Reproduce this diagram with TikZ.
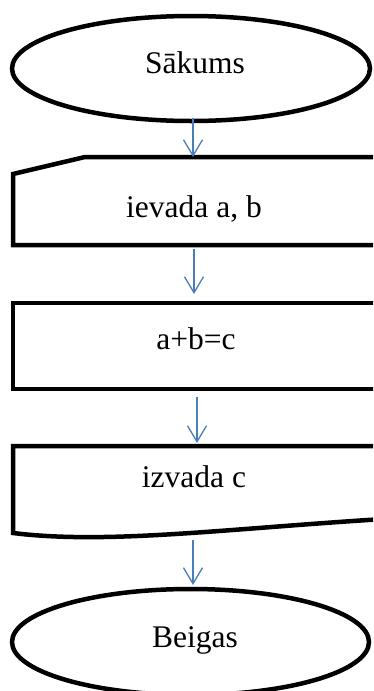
\documentclass[tikz,border=0pt]{standalone}
\usepackage{fontspec}
\setmainfont{Liberation Serif}
\usetikzlibrary{shapes.geometric,arrows.meta}
\definecolor{flowblue}{RGB}{74,126,187}
\tikzset{
  outline/.style={draw=black,line width=4.5pt},
  terminal/.style={outline,ellipse,inner sep=0pt,minimum width=358pt,minimum height=105pt},
  label/.style={font=\fontsize{31.5}{36}\selectfont,anchor=base,inner sep=0pt},
  flow/.style={draw=flowblue,line width=1.3pt,-{Straight Barb[length=16pt,width=19pt,line width=1.3pt]}}
}
\begin{document}
\begin{tikzpicture}[x=1pt,y=-1pt]
  \useasboundingbox (0,0) rectangle (373,691);
  \clip (0,0) rectangle (373,691);

  % start terminal
  \node[terminal] (start) at (191,68.5) {};
  \node[label] (starttext) at (195,73) {Sākums};

  % manual input
  \draw[outline] (420,157) -- (85,157) -- (13,174) -- (13,245) -- (420,245);
  \node[label] (intext) at (194,217) {ievada a, b};

  % process
  \draw[outline] (420,303) -- (13,303) -- (13,389) -- (420,389);
  \node[label] (proctext) at (196,349) {a+b=c};

  % output document
  \draw[outline] (420,446) -- (13,446) -- (13,533)
        .. controls (110,545) and (230,528) .. (400,518) -- (420,518);
  \node[label] (outtext) at (194,487) {izvada c};

  % end terminal
  \node[terminal,minimum width=357pt,minimum height=106pt] (stop) at (190.5,642) {};
  \node[label] (stoptext) at (195,647) {Beigas};

  % connector end points
  \coordinate (a1s) at (193,118);
  \coordinate (a1e) at (193,157);
  \coordinate (a2s) at (194,249);
  \coordinate (a2e) at (194,294);
  \coordinate (a3s) at (197,397);
  \coordinate (a3e) at (197,443);
  \coordinate (a4s) at (193,540);
  \coordinate (a4e) at (193,585);

  \draw[flow] (a1s) -- (a1e);
  \draw[flow] (a2s) -- (a2e);
  \draw[flow] (a3s) -- (a3e);
  \draw[flow] (a4s) -- (a4e);
\end{tikzpicture}
\end{document}
